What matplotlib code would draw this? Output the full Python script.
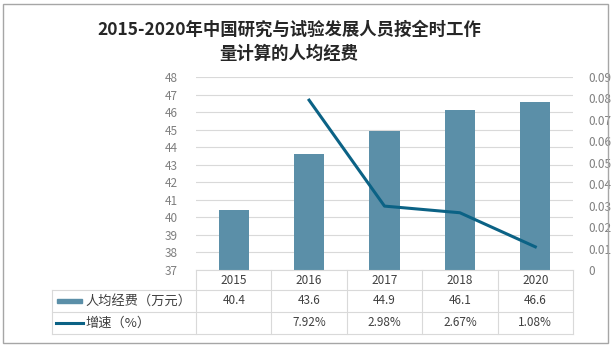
import matplotlib.pyplot as plt
from matplotlib.patches import Rectangle
from matplotlib.lines import Line2D

plt.rcParams['font.family'] = ['Noto Sans CJK SC', 'DejaVu Sans']

years = ['2015', '2016', '2017', '2018', '2020']
cost = [40.4, 43.6, 44.9, 46.1, 46.6]
growth = [None, 0.0792, 0.0298, 0.0267, 0.0108]
cost_txt = ['40.4', '43.6', '44.9', '46.1', '46.6']
growth_txt = ['', '7.92%', '2.98%', '2.67%', '1.08%']
bar_label = '人均经费（万元）'
line_label = '增速（%）'
title = '2015-2020年中国研究与试验发展人员按全时工作\n量计算的人均经费'

bar_c = '#5b8fa8'
line_c = '#0b6285'
grid_c = '#d9d9d9'
tick_c = '#7f7f7f'
txt_c = '#404040'
fs = 8.5

W, H = 613, 347
fig = plt.figure(figsize=(W / 100, H / 100), dpi=100)

def box(x0, y0, x1, y1):
    # pixel box (top-left origin) -> figure fraction
    return [x0 / W, 1 - y1 / H, (x1 - x0) / W, (y1 - y0) / H]

# outer border
fig.patches.append(Rectangle((3 / W, 4 / H), 605 / W, 339 / H, transform=fig.transFigure,
                             fill=False, edgecolor='#a6a6a6', lw=1))

fig.text(289 / W, 1 - 42 / H, title, ha='center', va='center', fontsize=12.5,
         fontweight='bold', color='#262626', linespacing=1.4)

ax = fig.add_axes(box(196, 77, 573, 270))
x = list(range(len(years)))
ax.bar(x, [c - 37 for c in cost], bottom=37, width=0.4, color=bar_c, zorder=3)
ax.set_xlim(-0.5, 4.5)
ax.set_ylim(37, 48)
ax.set_yticks(range(37, 49))
ax.yaxis.grid(True, color=grid_c, lw=0.8, zorder=0)
ax.set_xticks([])
for s in ax.spines.values():
    s.set_visible(False)
ax.tick_params(axis='y', length=0, pad=13, labelsize=fs, labelcolor=tick_c)

ax2 = ax.twinx()
ax2.plot(x[1:], growth[1:], color=line_c, lw=2.2, zorder=4)
ax2.set_ylim(0, 0.09)
ax2.set_yticks([i / 100 for i in range(10)])
ax2.set_yticklabels(['0'] + ['%.2f' % (i / 100) for i in range(1, 10)])
ax2.tick_params(axis='y', length=0, pad=11, labelsize=fs, labelcolor=tick_c)
for s in ax2.spines.values():
    s.set_visible(False)

# data table below the chart
unit = 377 / 5
lead = 144 / unit
tb = fig.add_axes(box(52, 270, 573, 334))
tb.set_xlim(-0.5 - lead, 4.5)
tb.set_ylim(3, 0)
tb.axis('off')
rows = [0, 20 / 64 * 3, 42 / 64 * 3, 3]
L = -0.5 - lead
for y in rows[1:]:
    tb.plot([L, 4.5], [y, y], color=grid_c, lw=0.8, clip_on=False)
tb.plot([-0.5, 4.5], [0, 0], color=grid_c, lw=0.8, clip_on=False)
tb.plot([L, L], [rows[1], 3], color=grid_c, lw=0.8, clip_on=False)
for i in range(6):
    tb.plot([i - 0.5, i - 0.5], [0, 3], color=grid_c, lw=0.8, clip_on=False)
for i, yr in enumerate(years):
    tb.text(i, rows[0] + (rows[1] - rows[0]) / 2, yr, ha='center', va='center', fontsize=fs, color=txt_c)
    tb.text(i, rows[1] + (rows[2] - rows[1]) / 2, cost_txt[i], ha='center', va='center', fontsize=fs, color=txt_c)
    tb.text(i, rows[2] + (rows[3] - rows[2]) / 2, growth_txt[i], ha='center', va='center', fontsize=fs, color=txt_c)

ym1 = rows[1] + (rows[2] - rows[1]) / 2
ym2 = rows[2] + (rows[3] - rows[2]) / 2
u = 1 / unit
tb.add_patch(Rectangle((L + 5 * u, ym1 - 0.1), 25 * u, 0.2, color=bar_c, clip_on=False))
tb.add_line(Line2D([L + 4 * u, L + 31 * u], [ym2, ym2], color=line_c, lw=2.2, clip_on=False))
tb.text(L + 33 * u, ym1, bar_label, ha='left', va='center', fontsize=9.5, color=txt_c)
tb.text(L + 33 * u, ym2, line_label, ha='left', va='center', fontsize=9.5, color=txt_c)

fig.savefig('out.png', dpi=100)
